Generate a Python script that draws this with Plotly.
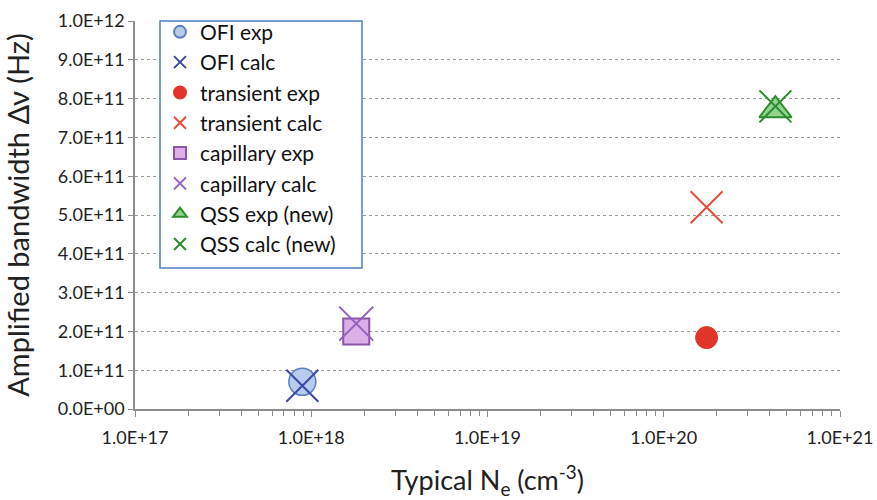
import plotly.graph_objects as go

# Typical electron density (cm^-3) and amplified bandwidth (Hz) per scheme
ofi_exp_x, ofi_exp_y = [8.9e17], [7.0e10]
ofi_calc_x, ofi_calc_y = [8.9e17], [6.0e10]
trans_exp_x, trans_exp_y = [1.75e20], [1.84e11]
trans_calc_x, trans_calc_y = [1.75e20], [5.2e11]
cap_exp_x, cap_exp_y = [1.8e18], [2.0e11]
cap_calc_x, cap_calc_y = [1.8e18], [2.2e11]
qss_exp_x, qss_exp_y = [4.3e20], [7.7e11]
qss_calc_x, qss_calc_y = [4.3e20], [7.8e11]

x_tickvals = [1e17, 1e18, 1e19, 1e20, 1e21]
x_ticktext = ["1.0E+17", "1.0E+18", "1.0E+19", "1.0E+20", "1.0E+21"]
y_tickvals = [i * 1e11 for i in range(11)]
y_ticktext = ["0.0E+00", "1.0E+11", "2.0E+11", "3.0E+11", "4.0E+11", "5.0E+11",
              "6.0E+11", "7.0E+11", "8.0E+11", "9.0E+11", "1.0E+12"]

# minor ticks at 2..9 within each decade
x_minor = [m * 10.0 ** d for d in range(17, 21) for m in range(2, 10)]

FONT = "Lato"
W, H = 877, 500
ML, MR, MT, MB = 135, 37, 18, 91
PW, PH = W - ML - MR, H - MT - MB

fig = go.Figure()


def add(name, x, y, symbol, size, fill, edge, width, group):
    fig.add_trace(go.Scatter(
        x=x, y=y, mode="markers", name=name, legendgroup=group,
        marker=dict(symbol=symbol, size=size, color=fill,
                    line=dict(color=edge, width=width)),
    ))


add("OFI exp", ofi_exp_x, ofi_exp_y, "circle", 27, "#b9cbec", "#5a7fc0", 1.5, "a")
add("OFI calc", ofi_calc_x, ofi_calc_y, "x-thin", 32, "#3a48a8", "#3a48a8", 2, "b")
add("transient exp", trans_exp_x, trans_exp_y, "circle", 22, "#e2352a", "#e2352a", 1, "c")
add("transient calc", trans_calc_x, trans_calc_y, "x-thin", 32, "#ea4c3c", "#ea4c3c", 2, "d")
add("capillary exp", cap_exp_x, cap_exp_y, "square", 26, "#dcb0e6", "#8a56aa", 2, "e")
add("capillary calc", cap_calc_x, cap_calc_y, "x-thin", 34, "#9160c2", "#9160c2", 2, "f")
add("QSS exp (new)", qss_exp_x, qss_exp_y, "triangle-up", 28, "#8fd38f", "#2e8b2e", 2, "g")
add("QSS calc (new)", qss_calc_x, qss_calc_y, "x-thin", 32, "#2e8b2e", "#2e8b2e", 2, "h")

# white legend panel with a thin blue frame, drawn over the grid
box_l, box_r, box_t, box_b = 160, 362, 18, 267
fig.add_shape(
    type="rect", xref="paper", yref="paper", layer="above",
    x0=(box_l - ML) / PW, x1=(box_r - ML) / PW,
    y0=(H - MB - box_b) / PH, y1=(H - MB - box_t) / PH,
    fillcolor="white", line=dict(color="#4f7fc0", width=1.5),
)

fig.update_layout(
    width=W, height=H,
    margin=dict(l=ML, r=MR, t=MT, b=MB),
    plot_bgcolor="white", paper_bgcolor="white",
    font=dict(family=FONT, color="#222222"),
    showlegend=True,
    legend=dict(
        x=(box_l - ML) / PW, y=1.024, xanchor="left", yanchor="top",
        bgcolor="rgba(0,0,0,0)", borderwidth=0, maxheight=480,
        font=dict(family=FONT, size=21, color="#111111"),
        tracegroupgap=0, itemsizing="constant",
    ),
    xaxis=dict(
        type="log", range=[17, 21], automargin=False,
        tickvals=x_tickvals, ticktext=x_ticktext,
        tickfont=dict(family=FONT, size=18, color="#222222"),
        ticks="outside", ticklen=6, tickcolor="#8c8c8c",
        ticklabelstandoff=6,
        minor=dict(tickvals=x_minor, ticks="outside", ticklen=5,
                   tickcolor="#8c8c8c", showgrid=False),
        showline=True, linecolor="#8c8c8c", linewidth=1.5,
        showgrid=False, zeroline=False,
        title=dict(text="Typical N<sub>e</sub> (cm<sup>-3</sup>)",
                   font=dict(family=FONT, size=27, color="#222222"), standoff=28),
    ),
    yaxis=dict(
        range=[0, 1e12], automargin=False,
        tickvals=y_tickvals, ticktext=y_ticktext,
        tickfont=dict(family=FONT, size=18, color="#222222"),
        ticks="outside", ticklen=5, tickcolor="#8c8c8c",
        showline=True, linecolor="#8c8c8c", linewidth=1.5,
        showgrid=True, gridcolor="#9a9a9a", griddash="dot", gridwidth=1,
        zeroline=False,
        title=dict(text="Amplified bandwidth Δν (Hz)",
                   font=dict(family=FONT, size=29, color="#222222"), standoff=24),
    ),
)

fig.write_html("out.html")
